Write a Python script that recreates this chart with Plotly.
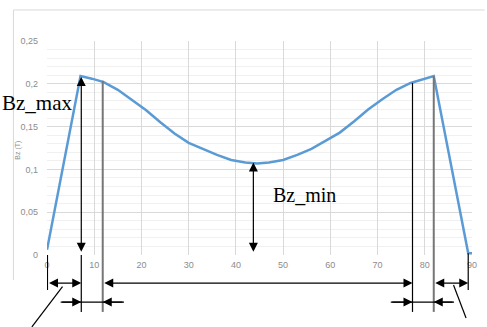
import plotly.graph_objects as go

# ---- data ----
angle = [0, 7.1, 9.5, 12, 15, 18, 21, 24, 27, 30, 33, 36, 39, 42, 44.5,
         47, 50, 53, 56, 59, 62, 65, 68, 71, 74, 77, 79.5, 81.9, 89.2, 90]
bz = [0.006, 0.209, 0.206, 0.202, 0.193, 0.181, 0.169, 0.155, 0.142, 0.131,
      0.124, 0.117, 0.111, 0.108, 0.107,
      0.108, 0.111, 0.117, 0.124, 0.133, 0.143, 0.156, 0.170, 0.182, 0.193,
      0.201, 0.205, 0.209, 0.002, 0.002]

x_ticks = [0, 10, 20, 30, 40, 50, 60, 70, 80, 90]
y_ticks = [0, 0.05, 0.1, 0.15, 0.2, 0.25]
y_tick_text = ["0", "0,05", "0,1", "0,15", "0,2", "0,25"]

# marker positions of the annotation construction (in degrees / tesla)
bzmax_x, bzmax_top, bzmax_bot = 7.26, 0.208, 0.002
gray_left_x, gray_left_y = 11.8, 0.2036
black_right_x, black_right_y = 77.4, 0.201
gray_right_x, gray_right_y = 81.9, 0.209
start_x, end_x, end_y = 0.1, 89.2, 0.002
bzmin_x, bzmin_top, bzmin_bot = 43.7, 0.108, 0.002

Y_RANGE = [0, 0.25]
X_RANGE = [0, 90]

fig = go.Figure()
fig.add_trace(go.Scatter(x=angle, y=bz, mode="lines",
                         line=dict(color="#5B9BD5", width=2.5),
                         hoverinfo="skip", showlegend=False))

def yp(v):
    return (v - Y_RANGE[0]) / (Y_RANGE[1] - Y_RANGE[0])

ROW1, ROW2, VBOT, SBOT = -0.131, -0.220, -0.266, -0.164
BLACK, GRAY = "#000000", "#767676"

shapes = []
def vline(x, y0, y1, color=BLACK, width=1.2):
    shapes.append(dict(type="line", xref="x", yref="paper", x0=x, x1=x,
                       y0=y0, y1=y1, line=dict(color=color, width=width)))

# long vertical lines
vline(bzmax_x, VBOT, 0)
vline(gray_left_x, VBOT, yp(gray_left_y), GRAY, 2)
vline(black_right_x, VBOT, yp(black_right_y))
vline(gray_right_x, VBOT, yp(gray_right_y), GRAY, 2)
# short end lines
vline(start_x, SBOT, 0)
vline(end_x, SBOT, yp(end_y))
# lower row connecting segments
shapes.append(dict(type="line", xref="x", yref="paper", x0=2.9, x1=16.3,
                   y0=ROW2, y1=ROW2, line=dict(color=BLACK, width=1.2)))
shapes.append(dict(type="line", xref="x", yref="paper", x0=72.8, x1=86.2,
                   y0=ROW2, y1=ROW2, line=dict(color=BLACK, width=1.2)))
# leader lines
shapes.append(dict(type="line", xref="paper", yref="paper", x0=0.0365, y0=-0.148,
                   x1=-0.0356, y1=-0.336, line=dict(color=BLACK, width=1.2)))
shapes.append(dict(type="line", xref="paper", yref="paper", x0=0.9565, y0=-0.140,
                   x1=0.986, y1=-0.294, line=dict(color=BLACK, width=1.2)))
# chart frame (light)
shapes.append(dict(type="line", xref="paper", yref="paper", x0=-0.079, x1=1.03,
                   y0=1.145, y1=1.145, line=dict(color="#d9d9d9", width=1)))
shapes.append(dict(type="line", xref="paper", yref="paper", x0=-0.079, x1=-0.079,
                   y0=1.145, y1=-0.117, line=dict(color="#d9d9d9", width=1)))

ann = []
AH = dict(arrowhead=2, arrowsize=1.5, arrowwidth=1.2, arrowcolor=BLACK,
          startarrowhead=2, startarrowsize=1.5, standoff=0, startstandoff=0)

def harrow(head, tail, y, both=True):
    ann.append(dict(text="", showarrow=True, xref="x", yref="paper", x=head, y=y,
                    axref="x", ax=tail, ayref="pixel", ay=0,
                    arrowside="end+start" if both else "end", **AH))

def varrow(x, top, bot):
    ann.append(dict(text="", showarrow=True, xref="x", yref="y", x=x, y=top,
                    axref="x", ax=x, ayref="y", ay=bot,
                    arrowside="end+start", **AH))

varrow(bzmax_x, bzmax_top, bzmax_bot)
varrow(bzmin_x, bzmin_top, bzmin_bot)
# row 1 double arrows
harrow(bzmax_x, start_x, ROW1)
harrow(black_right_x, gray_left_x, ROW1)
harrow(end_x, gray_right_x, ROW1)
# row 2 inward arrows
harrow(bzmax_x, 2.9, ROW2, both=False)
harrow(gray_left_x, 16.3, ROW2, both=False)
harrow(black_right_x, 72.8, ROW2, both=False)
harrow(gray_right_x, 86.2, ROW2, both=False)

SERIF = "Liberation Serif, Times New Roman, serif"
ann.append(dict(text="Bz_max", showarrow=False, xref="paper", yref="paper",
                x=0.063, y=0.71, xanchor="right", yanchor="middle",
                font=dict(family=SERIF, size=21, color=BLACK)))
ann.append(dict(text="Bz_min", showarrow=False, xref="x", yref="y",
                x=47.5, y=0.070, xanchor="left", yanchor="middle",
                font=dict(family=SERIF, size=20, color=BLACK)))
ann.append(dict(text="Bz (T)", showarrow=False, xref="paper", yref="paper",
                x=-0.067, y=0.49, textangle=-90, xanchor="center", yanchor="middle",
                font=dict(family="Liberation Sans, Arial, sans-serif", size=7, color="#8c8c8c")))

TICKFONT = dict(family="Liberation Sans, Arial, sans-serif", size=9, color="#8c8c8c")

fig.update_layout(
    width=487, height=327,
    margin=dict(l=47, r=10, t=41, b=72),
    paper_bgcolor="white", plot_bgcolor="white",
    shapes=shapes, annotations=ann,
    showlegend=False,
    xaxis=dict(range=X_RANGE, tickmode="array", tickvals=x_ticks,
               ticktext=[str(v) for v in x_ticks], tickfont=TICKFONT,
               showgrid=True, gridcolor="#d9d9d9", gridwidth=1,
               zeroline=False, showline=False, ticks="", ticklabelstandoff=3),
    yaxis=dict(range=Y_RANGE, tickmode="array", tickvals=y_ticks,
               ticktext=y_tick_text, tickfont=TICKFONT,
               showgrid=True, gridcolor="#d9d9d9", gridwidth=1,
               minor=dict(tick0=0, dtick=0.01, showgrid=True, gridcolor="#f0f0f0"),
               zeroline=False, showline=False, ticks="", ticklabelstandoff=8),
)

fig.write_html("out.html", config={"displayModeBar": False},
               post_script="document.body.style.margin='0';document.body.style.overflow='hidden';")
